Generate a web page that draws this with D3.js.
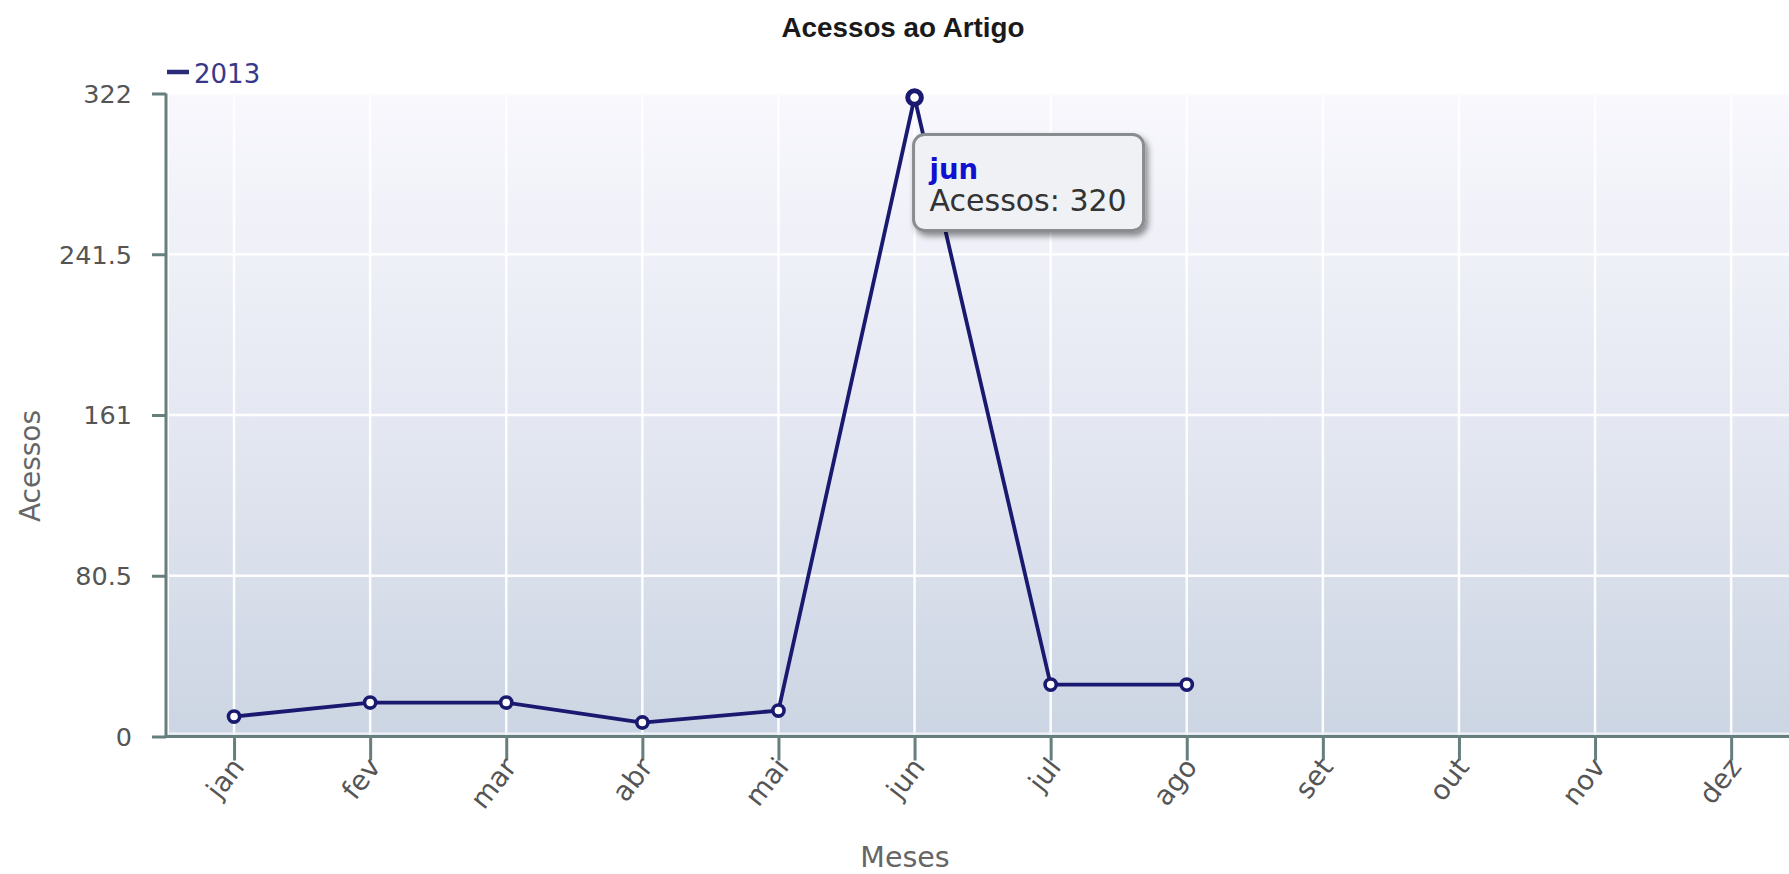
<!DOCTYPE html>
<html>
<head>
<meta charset="utf-8">
<script src="https://cdn.jsdelivr.net/npm/d3@7"></script>
<style>
  html, body { margin: 0; padding: 0; background: #ffffff; overflow: hidden; }
  svg { display: block; }
</style>
</head>
<body>
<svg id="chart" width="1789" height="874"></svg>
<script>
// Monthly article views, 2013
const months = ["jan", "fev", "mar", "abr", "mai", "jun", "jul", "ago", "set", "out", "nov", "dez"];
const seriesMonths = ["jan", "fev", "mar", "abr", "mai", "jun", "jul", "ago"];
const acessos2013 = [10, 17, 17, 7, 13, 320, 26, 26];
const yTicks = [0, 80.5, 161, 241.5, 322];
const seriesName = "2013";
const highlighted = "jun";

(function draw() {
  const svg = d3.select("#chart");
  const W = 1789;
  const plotLeft = 166, plotTop = 93.5, plotBottom = 736.5;
  const step = 136.1;
  const plotRight = plotLeft + step * months.length;

  const x = d3.scalePoint().domain(months).range([plotLeft, plotRight]).padding(0.5);
  const y = d3.scaleLinear().domain([0, 322]).range([plotBottom, plotTop]);

  const defs = svg.append("defs");
  const grad = defs.append("linearGradient").attr("id", "bg").attr("x1", 0).attr("y1", 0).attr("x2", 0).attr("y2", 1);
  grad.append("stop").attr("offset", "0%").attr("stop-color", "#f8f8fd");
  grad.append("stop").attr("offset", "50%").attr("stop-color", "#e5e8f2");
  grad.append("stop").attr("offset", "100%").attr("stop-color", "#ccd5e3");

  const shadow = defs.append("filter").attr("id", "tipShadow").attr("x", "-20%").attr("y", "-20%").attr("width", "150%").attr("height", "160%");
  shadow.append("feDropShadow").attr("dx", 3).attr("dy", 4).attr("stdDeviation", 3).attr("flood-color", "#000").attr("flood-opacity", 0.45);

  // plot background
  svg.append("rect")
    .attr("x", plotLeft + 3).attr("y", plotTop)
    .attr("width", plotRight - plotLeft).attr("height", plotBottom - plotTop)
    .attr("fill", "url(#bg)");

  // grid
  const grid = svg.append("g");
  grid.selectAll("line.v").data(months).join("line")
    .attr("x1", d => x(d)).attr("x2", d => x(d))
    .attr("y1", plotTop).attr("y2", plotBottom)
    .attr("stroke", "#ffffff").attr("stroke-width", 2.5).attr("opacity", 0.95);
  grid.selectAll("line.h").data(yTicks.filter(t => t > 0)).join("line")
    .attr("x1", plotLeft).attr("x2", plotRight)
    .attr("y1", d => y(d)).attr("y2", d => y(d))
    .attr("stroke", "#ffffff").attr("stroke-width", 2.5).attr("opacity", 0.95);
  grid.append("line")
    .attr("x1", plotLeft).attr("x2", plotRight)
    .attr("y1", plotBottom - 3).attr("y2", plotBottom - 3)
    .attr("stroke", "#eef4f8").attr("stroke-width", 2);

  const axisColor = "#667f7d";
  const labelFont = "'DejaVu Sans', Verdana, sans-serif";

  // y axis
  const yAxis = svg.append("g")
    .attr("transform", `translate(${plotLeft},0)`)
    .call(d3.axisLeft(y).tickValues(yTicks).tickSize(14).tickPadding(20).tickFormat(d => String(d)));
  yAxis.select(".domain").attr("stroke", axisColor).attr("stroke-width", 3)
    .attr("d", `M0,${plotTop}V${plotBottom + 1.5}`);
  yAxis.selectAll(".tick line").attr("stroke", axisColor).attr("stroke-width", 3);
  yAxis.selectAll(".tick text")
    .attr("fill", "#555").attr("font-family", labelFont).attr("font-size", 25.5)
    .attr("dy", "0.35em");

  // x axis with slanted month labels
  const xAxis = svg.append("g")
    .attr("transform", `translate(0,${plotBottom})`)
    .call(d3.axisBottom(x).tickSize(24).tickPadding(6));
  xAxis.select(".domain").attr("stroke", axisColor).attr("stroke-width", 3)
    .attr("d", `M${plotLeft},0H${W + 20}`);
  xAxis.selectAll(".tick line").attr("stroke", axisColor).attr("stroke-width", 3);
  xAxis.selectAll(".tick text")
    .attr("fill", "#555").attr("font-family", labelFont).attr("font-size", 27.5)
    .attr("text-anchor", "end")
    .attr("dy", 0)
    .attr("transform", "translate(11,31) rotate(-52)")
    .attr("x", 0).attr("y", 0);

  // axis titles
  svg.append("text")
    .attr("transform", "translate(40,466) rotate(-90)")
    .attr("text-anchor", "middle")
    .attr("fill", "#666").attr("font-family", labelFont).attr("font-size", 28)
    .text("Acessos");
  svg.append("text")
    .attr("x", 905).attr("y", 867)
    .attr("text-anchor", "middle")
    .attr("fill", "#666").attr("font-family", labelFont).attr("font-size", 28.5)
    .text("Meses");

  // chart title
  svg.append("text")
    .attr("x", 903).attr("y", 37)
    .attr("text-anchor", "middle")
    .attr("fill", "#1a1a1a").attr("font-family", "'Liberation Sans', Arial, sans-serif")
    .attr("font-weight", "bold").attr("font-size", 27.8)
    .text("Acessos ao Artigo");

  // series line
  const lineColor = "#191970";
  const points = seriesMonths.map((m, i) => ({ m, v: acessos2013[i] }));
  svg.append("path")
    .datum(points)
    .attr("fill", "none").attr("stroke", lineColor).attr("stroke-width", 3.8)
    .attr("stroke-linejoin", "round")
    .attr("d", d3.line().x(d => x(d.m)).y(d => y(d.v)));

  svg.append("g").selectAll("circle").data(points).join("circle")
    .attr("cx", d => x(d.m)).attr("cy", d => y(d.v))
    .attr("r", d => d.m === highlighted ? 6.8 : 5.6)
    .attr("fill", "#ffffff")
    .attr("stroke", lineColor)
    .attr("stroke-width", d => d.m === highlighted ? 5 : 3.6);

  // legend
  svg.append("line")
    .attr("x1", 167).attr("x2", 189).attr("y1", 72).attr("y2", 72)
    .attr("stroke", "#2a2a78").attr("stroke-width", 4.5);
  svg.append("text")
    .attr("x", 194).attr("y", 83)
    .attr("fill", "#38388a").attr("font-family", labelFont).attr("font-size", 26)
    .text(seriesName);

  // tooltip for the highlighted month
  const hp = points.find(p => p.m === highlighted);
  const tx = x(hp.m) - 1, ty = y(hp.v) + 37;
  const tip = svg.append("g").attr("transform", `translate(${tx},${ty})`);
  tip.append("rect")
    .attr("width", 230).attr("height", 96).attr("rx", 11)
    .attr("fill", "#eff1f4").attr("stroke", "#8a8d90").attr("stroke-width", 3)
    .attr("filter", "url(#tipShadow)");
  tip.append("text")
    .attr("x", 16).attr("y", 45)
    .attr("fill", "#1010d0").attr("font-family", labelFont).attr("font-weight", "bold").attr("font-size", 27.5)
    .text(hp.m);
  tip.append("text")
    .attr("x", 16).attr("y", 77)
    .attr("fill", "#333").attr("font-family", labelFont).attr("font-size", 30)
    .text("Acessos: " + hp.v);
})();
</script>
</body>
</html>
